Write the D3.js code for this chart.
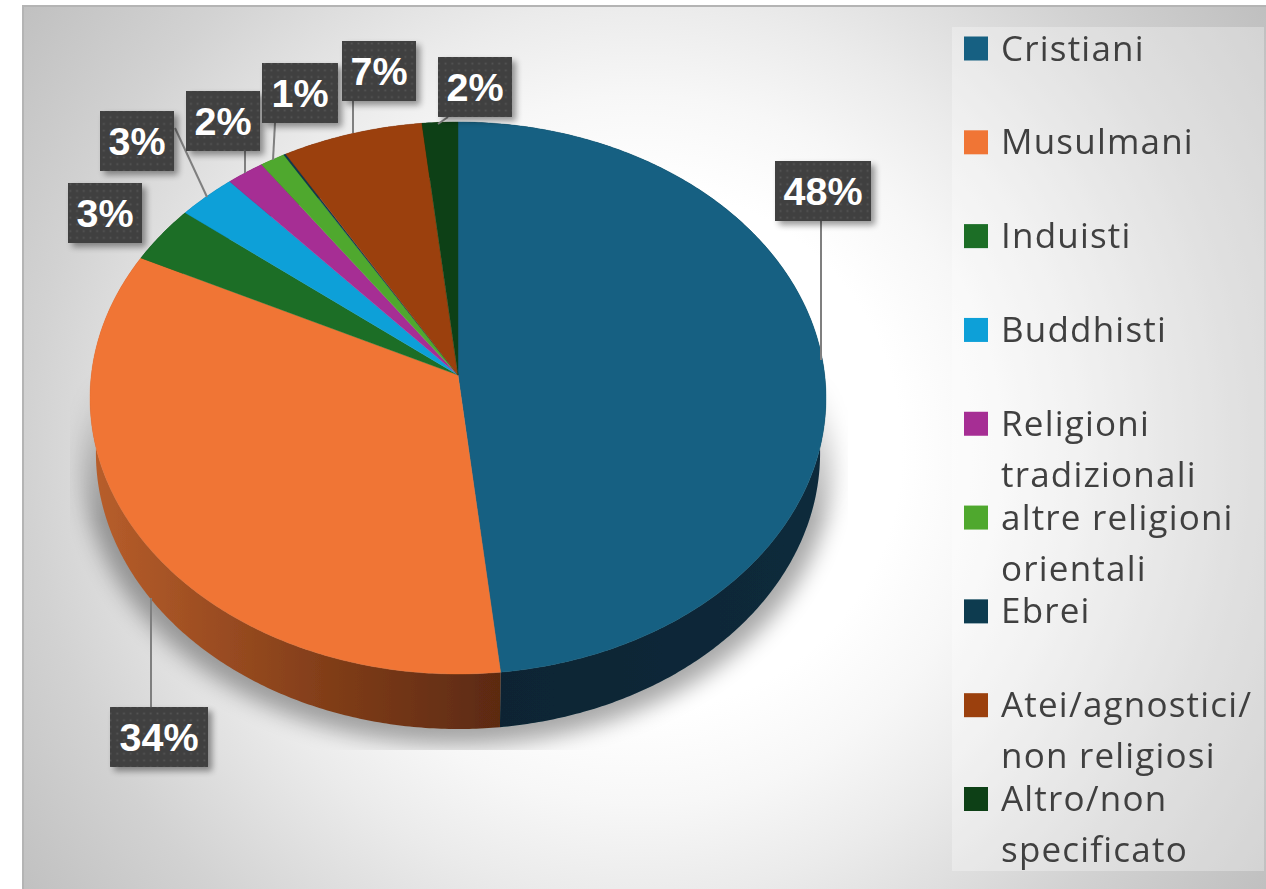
<!DOCTYPE html>
<html><head><meta charset="utf-8">
<style>html,body{margin:0;padding:0;background:#fff}svg{display:block}</style>
<script src="https://cdn.jsdelivr.net/npm/d3@7"></script></head>
<body><svg id="c" width="1266" height="889"></svg>
<script>
const categories=["Cristiani","Musulmani","Induisti","Buddhisti","Religioni tradizionali","altre religioni orientali","Ebrei","Atei/agnostici/ non religiosi","Altro/non specificato"];
const values=[48.3,34,3.4,2.8,1.8,1.2,0.1,6.7,1.7];
const valueLabels=["48%","34%","3%","3%","2%","1%",null,"7%","2%"];
const legendLines=[["Cristiani"],["Musulmani"],["Induisti"],["Buddhisti"],["Religioni","tradizionali"],["altre religioni","orientali"],["Ebrei"],["Atei/agnostici/","non religiosi"],["Altro/non","specificato"]];
const colors=["#156082","#F07535","#1B6E27","#10A0D8","#A62E94","#50A82F","#0B3A50","#9B400F","#0D4014"];

// layout of the call-outs, in page pixels: box [x,y,w,h], leader [x1,y1,x2,y2]
const calloutBoxes=[[775,161,96,60],[110,707,98,60],[68,183,74,60],[100,111,74,60],[186,91,74,60],[262,63,76,60],null,[342,41,74,60],[438,57,74,60]];
const calloutLeaders=[[821,221,821,360],[151,707,151,598],null,[175,128,207,197],[245,151,245,173],[275,123,273,160],null,[353,101,353,133],[448,117,438,124]];

const svg=d3.select("#c"),defs=svg.append("defs");
const bg=defs.append("radialGradient").attr("id","bg").attr("gradientUnits","userSpaceOnUse").attr("cx",640).attr("cy",450).attr("r",770);
[[0,"#ffffff"],[.34,"#ffffff"],[.46,"#f7f7f7"],[.58,"#ebebeb"],[.795,"#d2d2d2"],[1,"#bfbfbf"]].forEach(s=>bg.append("stop").attr("offset",s[0]).attr("stop-color",s[1]));
const gO=defs.append("linearGradient").attr("id","wall1").attr("gradientUnits","userSpaceOnUse").attr("x1",92).attr("x2",500).attr("y1",0).attr("y2",0);
[[0,"#B85E2B"],[.6,"#7F3C18"],[1,"#5C2A11"]].forEach(s=>gO.append("stop").attr("offset",s[0]).attr("stop-color",s[1]));
const gB=defs.append("linearGradient").attr("id","wall0").attr("gradientUnits","userSpaceOnUse").attr("x1",500).attr("x2",825).attr("y1",0).attr("y2",0);
[[0,"#072433"],[1,"#0A2A3B"]].forEach(s=>gB.append("stop").attr("offset",s[0]).attr("stop-color",s[1]));
const pat=defs.append("pattern").attr("id","dots").attr("patternUnits","userSpaceOnUse").attr("width",6.7).attr("height",6.7);
pat.append("rect").attr("width",6.7).attr("height",6.7).attr("fill","#404040");
pat.append("rect").attr("x",2.5).attr("y",2.5).attr("width",1.7).attr("height",1.7).attr("fill","#565656");
const fb=defs.append("filter").attr("id","blurS").attr("x","-20%").attr("y","-20%").attr("width","140%").attr("height","140%");
fb.append("feGaussianBlur").attr("stdDeviation",11);
const fb2=defs.append("filter").attr("id","blurB").attr("x","-30%").attr("y","-30%").attr("width","160%").attr("height","160%");
fb2.append("feGaussianBlur").attr("stdDeviation",3);
const soft=defs.append("filter").attr("id","soft");soft.append("feGaussianBlur").attr("stdDeviation",0.5);
defs.append("clipPath").attr("id","shClip").append("rect").attr("x",70).attr("y",340).attr("width",778).attr("height",410);
const mg=defs.append("linearGradient").attr("id","shFade").attr("gradientUnits","userSpaceOnUse").attr("x1",0).attr("x2",0).attr("y1",370).attr("y2",520);
[[0,"#000"],[1,"#fff"]].forEach(s=>mg.append("stop").attr("offset",s[0]).attr("stop-color",s[1]));
defs.append("mask").attr("id","shMask").attr("maskUnits","userSpaceOnUse").attr("x",0).attr("y",0).attr("width",1266).attr("height",889)
  .append("rect").attr("width",1266).attr("height",889).attr("fill","url(#shFade)");

svg.append("rect").attr("x",22).attr("y",5).attr("width",1244).attr("height",884).attr("fill","url(#bg)");
svg.append("rect").attr("x",22).attr("y",5).attr("width",1244).attr("height",2).attr("fill","#b4b4b4");
svg.append("rect").attr("x",22).attr("y",5).attr("width",2).attr("height",884).attr("fill","#b4b4b4");
svg.append("rect").attr("x",952).attr("y",27).attr("width",312).attr("height",844).attr("fill","#fff").attr("opacity",.3);

// perspective projection of the unit circle on to the page
const apexX=458,apexY=375,kP=0.0833,aP=366.7,bP=274.1,depth=55,shrink=0.984;
const proj=(th,r,d)=>{const u=r*Math.sin(th),v=r*Math.cos(th),w=1+kP*v,s=d?shrink:1;
  return [apexX+s*aP*u/w,apexY+(d?depth:0)-bP*v/w];};
const pie=d3.pie().sort(null).value(d=>d)(values);
const line=d3.line();
const rim=(a0,a1,d)=>{const n=Math.max(2,Math.ceil((a1-a0)/0.01));return d3.range(n+1).map(i=>proj(a0+(a1-a0)*i/n,1,d));};

const pieG=svg.append("g").attr("filter","url(#soft)");
// shadow
svg.insert("g","g").attr("clip-path","url(#shClip)").attr("mask","url(#shMask)").append("path")
  .attr("d",line(rim(0,2*Math.PI,true))+"Z").attr("fill","#000").attr("opacity",.34).attr("filter","url(#blurS)")
  .attr("transform","translate(458,462) scale(1.035,1.025) translate(-458,-453)");
// walls
pie.forEach((p,i)=>{
  const top=rim(p.startAngle,p.endAngle,false),bot=rim(p.startAngle,p.endAngle,true).reverse();
  pieG.append("path").attr("d",line(top.concat(bot))+"Z")
    .attr("fill",i<2?`url(#wall${i})`:d3.color(colors[i]).darker(1.5));
});
// top faces
pie.forEach((p,i)=>{
  pieG.append("path").attr("d",line([proj(0,0,false)].concat(rim(p.startAngle,p.endAngle,false)))+"Z")
    .attr("fill",colors[i]).attr("stroke",colors[i]).attr("stroke-width",.4);
});

// leaders and call-outs
const lab=svg.append("g");
valueLabels.forEach((t,i)=>{
  const l=calloutLeaders[i];
  if(l)lab.append("line").attr("x1",l[0]).attr("y1",l[1]).attr("x2",l[2]).attr("y2",l[3]).attr("stroke","#7f7f7f").attr("stroke-width",2);
});
valueLabels.forEach((t,i)=>{
  const b=calloutBoxes[i]; if(!t||!b)return;
  lab.append("rect").attr("x",b[0]+4).attr("y",b[1]+4).attr("width",b[2]).attr("height",b[3]).attr("fill","#000").attr("opacity",.4).attr("filter","url(#blurB)");
  lab.append("rect").attr("x",b[0]).attr("y",b[1]).attr("width",b[2]).attr("height",b[3]).attr("fill","url(#dots)");
  lab.append("text").attr("x",b[0]+b[2]/2).attr("y",b[1]+b[3]/2+14).attr("text-anchor","middle")
    .attr("font-family","'Liberation Sans',Arial,sans-serif").attr("font-weight",700).attr("font-size",39.5).attr("fill","#fff").text(t);
});

// legend
const leg=svg.append("g").attr("filter","url(#soft)");
const ly=d3.scaleLinear().domain([0,8]).range([48.5,799]);
legendLines.forEach((lines,i)=>{
  leg.append("rect").attr("x",964).attr("y",ly(i)-12).attr("width",24).attr("height",24).attr("fill",colors[i]);
  lines.forEach((s,j)=>leg.append("text").attr("x",1001).attr("y",ly(i)+12+j*51)
    .attr("font-family","'Open Sans',sans-serif").attr("font-size",35).attr("letter-spacing","1.2px").attr("fill","#404040").text(s));
});
</script></body></html>
